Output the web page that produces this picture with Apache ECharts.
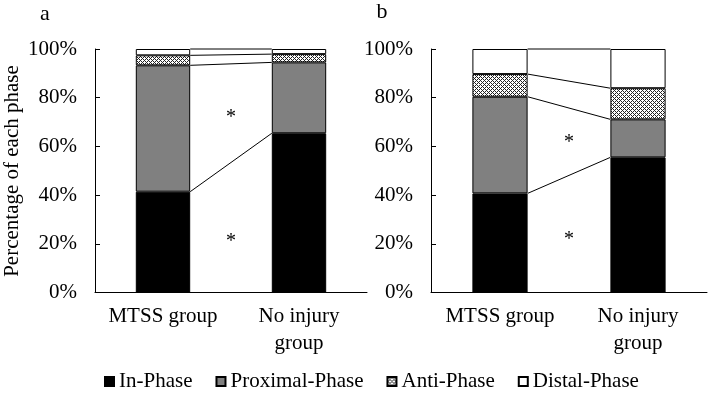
<!DOCTYPE html>
<html>
<head>
<meta charset="utf-8">
<script src="https://cdn.jsdelivr.net/npm/echarts@6/dist/echarts.min.js"></script>
<style>
  html, body { margin: 0; padding: 0; background: #fff; }
  #main { width: 709px; height: 394px; }
</style>
</head>
<body>
<div id="main"></div>
<script>
// data (percent of each phase)
const categories = ['MTSS group', 'No injury\ngroup'];
const phaseNames = ['In-Phase', 'Proximal-Phase', 'Anti-Phase', 'Distal-Phase'];

// panel a
const aInPhase = [41.4, 65.4];
const aProximal = [51.9, 29.1];
const aAnti = [4.1, 3.4];
const aDistal = [2.6, 2.1];
const aStars = [73.3, 22.4];

// panel b
const bInPhase = [40.7, 55.5];
const bProximal = [39.7, 15.6];
const bAnti = [9.3, 12.8];
const bDistal = [10.3, 16.1];
const bStars = [63.0, 23.2];

const FONT = '"Liberation Serif", "Times New Roman", serif';

// dotted fill for Anti-Phase
function makePattern() {
  const c = document.createElement('canvas');
  c.width = 4; c.height = 4;
  const ctx = c.getContext('2d');
  ctx.fillStyle = '#fff';
  ctx.fillRect(0, 0, 4, 4);
  ctx.fillStyle = '#222';
  [[0, 0], [1, 1], [2, 2], [3, 3], [1, 3], [3, 1]].forEach(function (p) {
    ctx.fillRect(p[0], p[1], 1, 1);
  });
  return { image: c, repeat: 'repeat' };
}
const fills = ['#000000', '#808080', makePattern(), '#ffffff'];

function panelSeries(idx, values, stars) {
  const list = [];
  values.forEach(function (vals, i) {
    list.push({
      name: phaseNames[i],
      type: 'bar',
      stack: 'p' + idx,
      xAxisIndex: idx,
      yAxisIndex: idx,
      barWidth: '40%',
      data: vals,
      itemStyle: { color: fills[i], borderColor: '#000', borderWidth: 1 },
      emphasis: { disabled: true },
      silent: true
    });
  });

  // series lines between the stack tops
  const tops = [];
  let s0 = 0, s1 = 0;
  values.forEach(function (vals) {
    s0 += vals[0]; s1 += vals[1];
    tops.push([0, s0, s1]);
  });
  list.push({
    type: 'custom',
    xAxisIndex: idx,
    yAxisIndex: idx,
    z: 5,
    silent: true,
    encode: { x: 0, y: 1 },
    data: tops,
    renderItem: function (params, api) {
      const p0 = api.coord([0, api.value(1)]);
      const p1 = api.coord([1, api.value(2)]);
      const half = api.size([1, 0])[0] * 0.2;
      return {
        type: 'line',
        shape: { x1: p0[0] + half, y1: p0[1], x2: p1[0] - half, y2: p1[1] },
        style: { stroke: '#000', lineWidth: 1 }
      };
    }
  });

  // significance marks
  list.push({
    type: 'custom',
    xAxisIndex: idx,
    yAxisIndex: idx,
    z: 6,
    silent: true,
    encode: { x: 0, y: 1 },
    data: stars.map(function (v) { return [0, v]; }),
    renderItem: function (params, api) {
      const p0 = api.coord([0, api.value(1)]);
      const p1 = api.coord([1, api.value(1)]);
      return {
        type: 'text',
        x: (p0[0] + p1[0]) / 2,
        y: p0[1] + 4,
        style: {
          text: '*', font: '20px ' + FONT, fill: '#000',
          textAlign: 'center', textVerticalAlign: 'middle'
        }
      };
    }
  });
  return list;
}

function xAxisFor(idx) {
  return {
    type: 'category',
    gridIndex: idx,
    data: categories,
    axisLine: { lineStyle: { color: '#000', width: 1 } },
    axisTick: { show: false },
    axisLabel: { color: '#000', fontFamily: FONT, fontSize: 21, lineHeight: 27, margin: 10, interval: 0 }
  };
}

function yAxisFor(idx) {
  return {
    type: 'value',
    gridIndex: idx,
    min: 0,
    max: 100,
    interval: 20,
    axisLine: { show: true, lineStyle: { color: '#000', width: 1 } },
    axisTick: { show: true, inside: true, length: 5, lineStyle: { color: '#000' } },
    splitLine: { show: false },
    axisLabel: { color: '#000', fontFamily: FONT, fontSize: 21, margin: 18, formatter: '{value}%' }
  };
}

window.onload = function () {
  const chartDom = document.getElementById('main');
  const myChart = echarts.init(chartDom, null, { renderer: 'canvas' });

  const option = {
    backgroundColor: '#fff',
    animation: false,
    grid: [
      { left: 95, right: 342, top: 49, bottom: 101.5 },
      { left: 431, right: 2, top: 49, bottom: 101.5 }
    ],
    xAxis: [xAxisFor(0), xAxisFor(1)],
    yAxis: [yAxisFor(0), yAxisFor(1)],
    legend: {
      data: phaseNames,
      left: 104,
      top: 371,
      padding: 0,
      icon: 'rect',
      itemWidth: 9,
      itemHeight: 9,
      itemGap: 23,
      selectedMode: false,
      textStyle: { color: '#000', fontFamily: FONT, fontSize: 21 }
    },
    graphic: [
      {
        type: 'text', x: 12, y: 171, rotation: Math.PI / 2,
        style: {
          text: 'Percentage of each phase', font: '21px ' + FONT, fill: '#000',
          textAlign: 'center', textVerticalAlign: 'middle'
        }
      },
      {
        type: 'text', x: 45, y: 14,
        style: { text: 'a', font: '22px ' + FONT, fill: '#000', textAlign: 'center', textVerticalAlign: 'middle' }
      },
      {
        type: 'text', x: 382, y: 12,
        style: { text: 'b', font: '22px ' + FONT, fill: '#000', textAlign: 'center', textVerticalAlign: 'middle' }
      }
    ],
    series: panelSeries(0, [aInPhase, aProximal, aAnti, aDistal], aStars)
      .concat(panelSeries(1, [bInPhase, bProximal, bAnti, bDistal], bStars))
  };

  option && myChart.setOption(option);
};
</script>
</body>
</html>
